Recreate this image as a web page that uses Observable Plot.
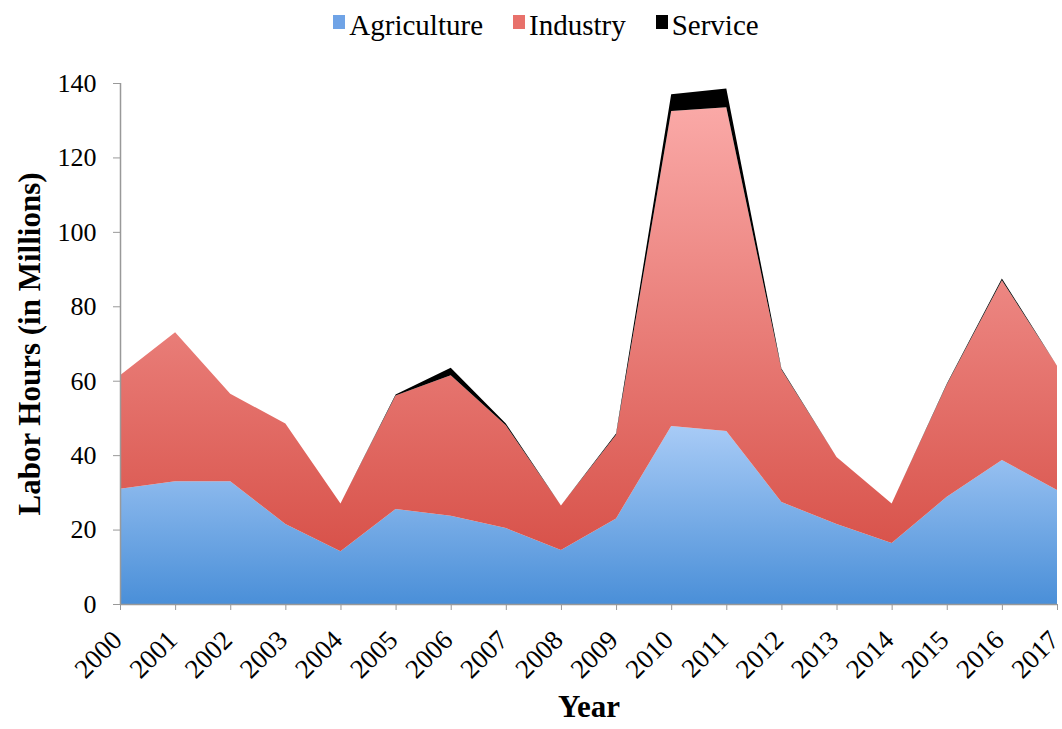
<!DOCTYPE html>
<html><head><meta charset="utf-8">
<script src="https://cdn.jsdelivr.net/npm/d3@7"></script>
<script src="https://cdn.jsdelivr.net/npm/@observablehq/plot@0.6"></script>
<style>
body{margin:0;background:#fff;font-family:"Liberation Serif",serif;}
#legend{height:50px;display:flex;justify-content:center;align-items:center;gap:30px;font-size:29px;color:#000;padding-left:30px;box-sizing:border-box}
#legend span.item{display:flex;align-items:center}
#legend span.sw{display:inline-block;width:12px;height:14px;margin-right:4px;position:relative;top:-3px}
</style></head>
<body><div id="legend"></div><div id="chart"></div>
<script>
const years = [2000,2001,2002,2003,2004,2005,2006,2007,2008,2009,2010,2011,2012,2013,2014,2015,2016,2017];
const agriculture = [31,33,33,21.5,14.2,25.5,23.7,20.4,14.5,23,47.8,46.5,27.4,21.5,16.4,28.8,38.7,30.6];
const industry = [30.5,40,23.5,27,12.8,30.5,37.8,27.6,12,22.5,84.7,87,35.6,18,10.6,30.2,48.3,33.4];
const service = [0,0,0,0,0,0.3,2,0.5,0,0.3,4.5,5,0.3,0,0,0.2,0.5,0];
const seriesNames = ["Agriculture","Industry","Service"];
const yTicks = [0,20,40,60,80,100,120,140];
const legendColors = ["#6fa3e6","#e8716b","#000"];

const seriesValues = [agriculture, industry, service];
const data = [];
seriesNames.forEach((s,i) => years.forEach((yr,j) => data.push({year: yr, series: s, value: seriesValues[i][j]})));

const plot = Plot.plot({
  width: 1062, height: 679,
  marginTop: 33, marginLeft: 120, marginRight: 5, marginBottom: 125,
  style: {fontFamily: "'Liberation Serif', serif", color: "#000", background: "#fff", overflow: "visible"},
  x: {domain: [years[0], years[years.length-1]]},
  y: {domain: [0, 140]},
  color: {domain: seriesNames, range: ["url(#gAg)", "url(#gInd)", "#000"]},
  marks: [
    Plot.areaY(data, {x: "year", y: "value", z: "series", fill: "series"}),
    Plot.ruleY([0], {stroke: "#999", strokeWidth: 1.5}),
    Plot.ruleX([years[0]], {stroke: "#999", strokeWidth: 1.5}),
    Plot.axisY({ticks: yTicks, tickSize: 7, tickPadding: 17, fontSize: 26, label: null, stroke: "#999"}),
    Plot.axisX({ticks: years, tickSize: 6, text: null, label: null, stroke: "#999"}),
    Plot.axisX({ticks: years, tickFormat: d => String(d), tickRotate: -45, tickSize: 0, tickPadding: 22, dy: 9, dx: -3, fontSize: 27, label: null}),
    Plot.text(["Labor Hours (in Millions)"], {frameAnchor: "left", dx: -90, rotate: -90, textAnchor: "middle", fontSize: 31, fontWeight: "bold"}),
    Plot.text(["Year"], {frameAnchor: "bottom", dy: 112, fontSize: 31, fontWeight: "bold"})
  ]
});

const svg = d3.select(plot);
const defs = svg.insert("defs", ":first-child");
const g1 = defs.append("linearGradient").attr("id","gAg").attr("x1",0).attr("y1",0).attr("x2",0).attr("y2",1);
g1.append("stop").attr("offset","0%").attr("stop-color","#a8cbf6");
g1.append("stop").attr("offset","100%").attr("stop-color","#4a8fd8");
const g2 = defs.append("linearGradient").attr("id","gInd").attr("x1",0).attr("y1",0).attr("x2",0).attr("y2",1);
g2.append("stop").attr("offset","0%").attr("stop-color","#faa9a7");
g2.append("stop").attr("offset","100%").attr("stop-color","#d8524a");

document.getElementById("chart").appendChild(plot);

const legend = d3.select("#legend");
seriesNames.forEach((s,i) => {
  const it = legend.append("span").attr("class","item");
  it.append("span").attr("class","sw").style("background", legendColors[i]);
  it.append("span").text(s);
});
</script>
</body></html>
